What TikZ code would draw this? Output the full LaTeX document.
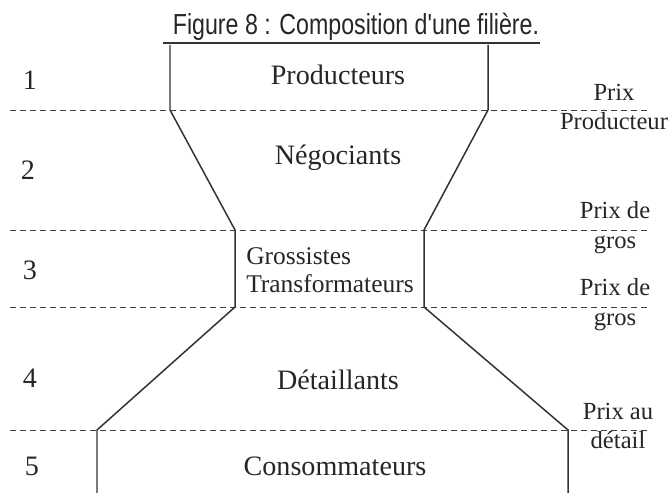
\documentclass[tikz,border=0pt]{standalone}
\usepackage{fontspec}
\setmainfont{Liberation Serif}
\newfontfamily\titlefont[FakeStretch=0.8]{Liberation Sans}
\tikzset{
  label/.style={font=\fontsize{16}{16}\selectfont, inner sep=0pt, text=black!85},
  price/.style={label, font=\fontsize{14}{17}\selectfont, align=center},
  level/.style={black!75, line width=0.5pt, dash pattern=on 3.4pt off 2.3pt},
  funnel/.style={black!80, line width=0.85pt}
}
\begin{document}
\begin{tikzpicture}[x=0.02cm,y=0.02cm]
      \useasboundingbox (0,0) rectangle (672,493);
      % title
      \node[label, font=\titlefont\fontsize{16.5}{17}\selectfont, anchor=base] (title) at (356,458) {Figure 8 : Composition d'une filière.};
      \draw[black!80, line width=0.7pt] (163,450) -- (540,450);
      % levels
      \draw[level] (10,383) -- (647,383);
      \draw[level] (10,263) -- (647,263);
      \draw[level] (10,186) -- (647,186);
      \draw[level] (10,63) -- (647,63);
      % funnel
      \draw[funnel]
      (170,448) --
      (170,383) --
      (235,263) --
      (235,186) --
      (97,63) --
      (97,0);
      \draw[funnel]
      (488,448) --
      (488,383) --
      (424,263) --
      (424,186) --
      (568,63) --
      (568,0);
      % actors
      \node[label] (prod) at (338,418) {Producteurs};
      \node[label] (nego) at (338,335) {Négociants};
      \node[label, font=\fontsize{14.5}{16}\selectfont, align=left] (gros) at (330,223) {Grossistes\\Transformateurs};
      \node[label] (deta) at (338,113) {Détaillants};
      \node[label] (cons) at (335,27) {Consommateurs};
      % numbers
      \node[label] (n1) at (30,413) {1};
      \node[label] (n2) at (28,323) {2};
      \node[label] (n3) at (30,223) {3};
      \node[label] (n4) at (30,115) {4};
      \node[label] (n5) at (32,27) {5};
      % prices
      \node[price] (pprod) at (614,386) {Prix\\Producteur};
      \node[price] (pgros) at (615,265) {Prix de\\gros};
      \node[price] (ptran) at (615,188) {Prix de\\gros};
      \node[price] (pdeta) at (618,67) {Prix au\\détail};
\end{tikzpicture}
\end{document}
